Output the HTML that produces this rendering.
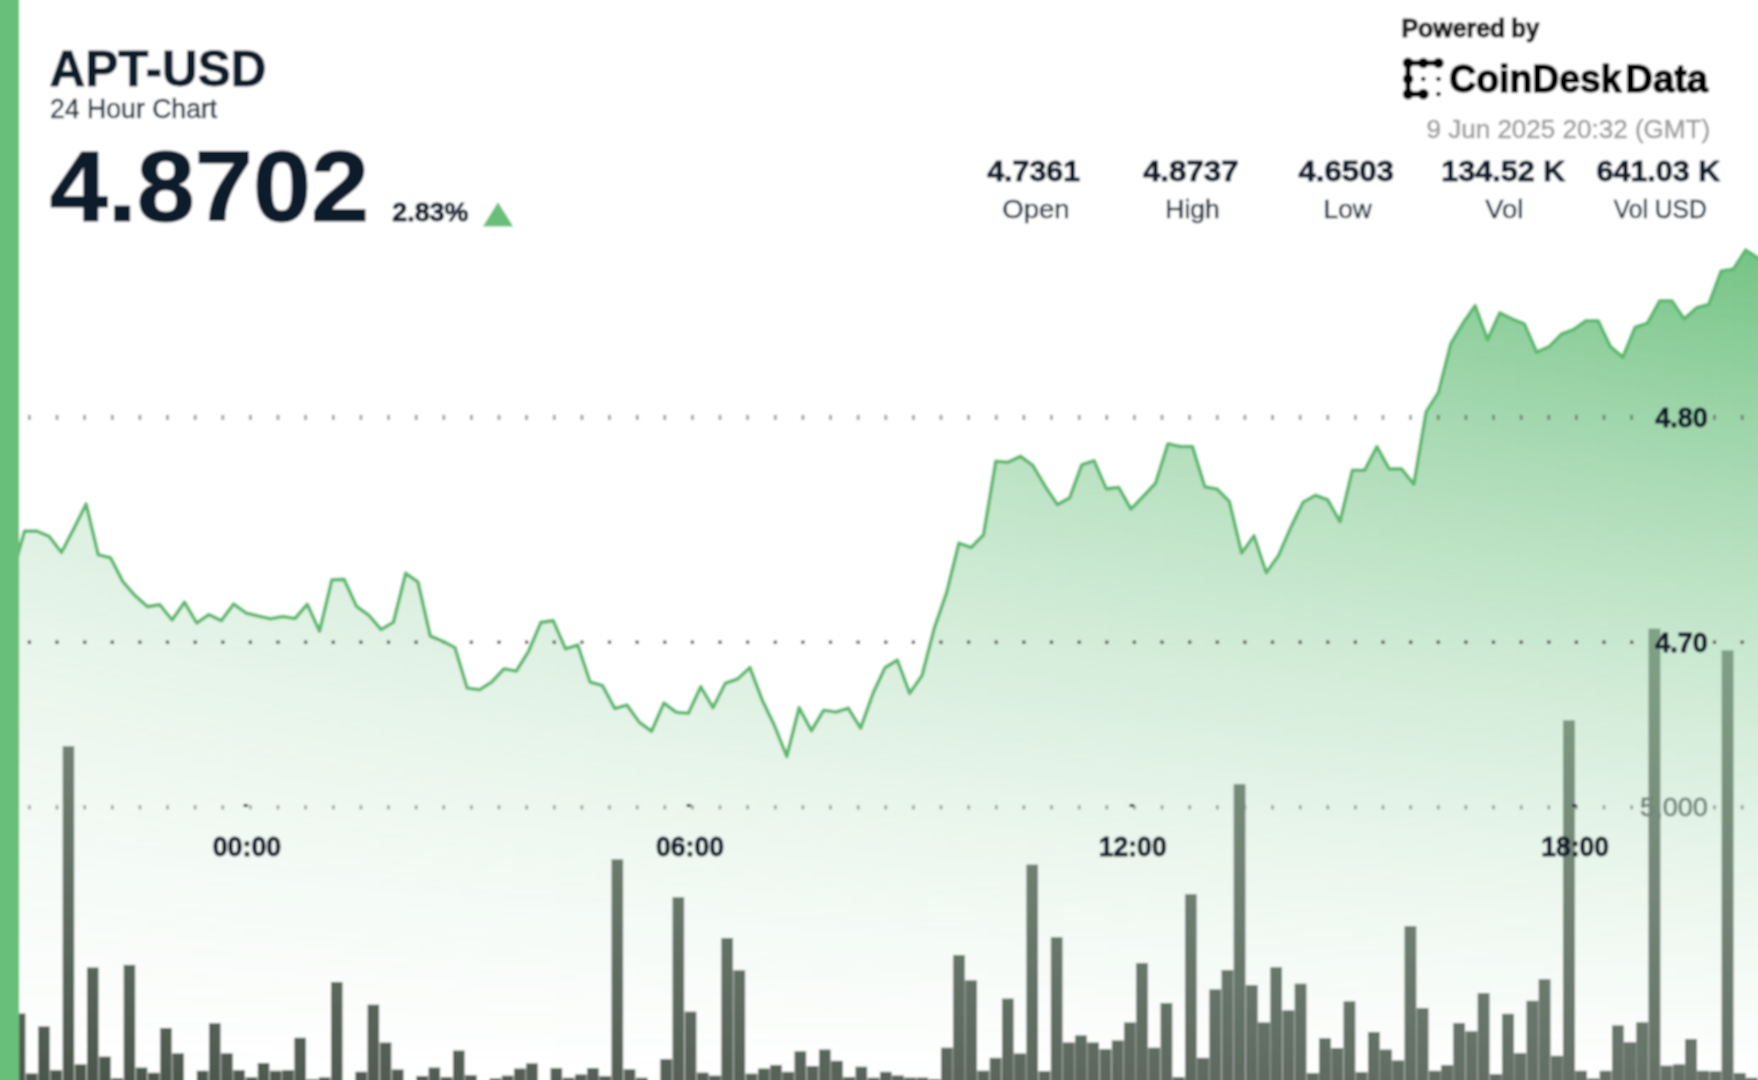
<!DOCTYPE html>
<html lang="en"><head><meta charset="utf-8"><title>APT-USD 24 Hour Chart</title>
<style>
html,body{margin:0;padding:0;background:#fff;}
body{width:1758px;height:1080px;overflow:hidden;position:relative;}
svg{position:absolute;left:0;top:0;display:block;}
text{font-family:"Liberation Sans","DejaVu Sans",sans-serif;}
</style></head><body>
<svg width="1758" height="1080" viewBox="0 0 1758 1080">
<defs>
<linearGradient id="hg" gradientUnits="userSpaceOnUse" x1="0" y1="0" x2="1758" y2="0">
<stop offset="0" stop-color="#5cb970" stop-opacity="0.339"/>
<stop offset="1" stop-color="#5cb970" stop-opacity="0.849"/>
</linearGradient>
<linearGradient id="vg" gradientUnits="userSpaceOnUse" x1="0" y1="250" x2="0" y2="1080"><stop offset="0.0" stop-color="rgb(255,255,255)"/><stop offset="0.1" stop-color="rgb(219,219,219)"/><stop offset="0.2" stop-color="rgb(185,185,185)"/><stop offset="0.3" stop-color="rgb(153,153,153)"/><stop offset="0.4" stop-color="rgb(124,124,124)"/><stop offset="0.5" stop-color="rgb(97,97,97)"/><stop offset="0.6" stop-color="rgb(73,73,73)"/><stop offset="0.7" stop-color="rgb(51,51,51)"/><stop offset="0.8" stop-color="rgb(32,32,32)"/><stop offset="0.9" stop-color="rgb(15,15,15)"/><stop offset="1.0" stop-color="rgb(0,0,0)"/></linearGradient>
<mask id="vm" maskUnits="userSpaceOnUse" x="-50" y="-50" width="1858" height="1180"><rect x="-50" y="-50" width="1858" height="1180" fill="url(#vg)"/></mask>
<linearGradient id="bgL" gradientUnits="userSpaceOnUse" x1="0" y1="630" x2="0" y2="1080">
<stop offset="0" stop-color="rgb(128,144,130)"/>
<stop offset="1" stop-color="rgb(76,87,77)"/>
</linearGradient>
<linearGradient id="bgR" gradientUnits="userSpaceOnUse" x1="0" y1="630" x2="0" y2="1080">
<stop offset="0" stop-color="rgb(128,162,134)"/>
<stop offset="0.569" stop-color="rgb(117,134,120)"/>
<stop offset="1" stop-color="rgb(101,113,103)"/>
</linearGradient>
<linearGradient id="hm" gradientUnits="userSpaceOnUse" x1="68" y1="0" x2="1654" y2="0">
<stop offset="0" stop-color="#000"/>
<stop offset="1" stop-color="#fff"/>
</linearGradient>
<mask id="hmask" maskUnits="userSpaceOnUse" x="-50" y="-50" width="1858" height="1180"><rect x="-50" y="-50" width="1858" height="1180" fill="url(#hm)"/></mask>
<filter id="soft" filterUnits="userSpaceOnUse" x="-60" y="-60" width="1878" height="1200"><feGaussianBlur stdDeviation="0.9"/></filter>
<g id="bars">
<rect x="1.7" y="1040.0" width="11.5" height="80.0"/>
<rect x="13.9" y="1013.5" width="11.5" height="106.5"/>
<rect x="26.0" y="1073.4" width="11.5" height="46.6"/>
<rect x="38.2" y="1026.4" width="11.5" height="93.6"/>
<rect x="50.4" y="1070.2" width="11.5" height="49.8"/>
<rect x="62.7" y="746.2" width="11.5" height="373.8"/>
<rect x="74.8" y="1064.3" width="11.5" height="55.7"/>
<rect x="87.0" y="967.5" width="11.5" height="152.5"/>
<rect x="99.2" y="1056.6" width="11.5" height="63.4"/>
<rect x="111.5" y="1078.3" width="11.5" height="41.7"/>
<rect x="123.7" y="964.9" width="11.5" height="155.1"/>
<rect x="135.8" y="1067.6" width="11.5" height="52.4"/>
<rect x="148.0" y="1072.8" width="11.5" height="47.2"/>
<rect x="160.2" y="1028.0" width="11.5" height="92.0"/>
<rect x="172.4" y="1053.3" width="11.5" height="66.7"/>
<rect x="196.8" y="1070.8" width="11.5" height="49.2"/>
<rect x="209.0" y="1023.2" width="11.5" height="96.8"/>
<rect x="221.2" y="1053.3" width="11.5" height="66.7"/>
<rect x="233.4" y="1070.2" width="11.5" height="49.8"/>
<rect x="245.7" y="1077.3" width="11.5" height="42.7"/>
<rect x="257.8" y="1063.0" width="11.5" height="57.0"/>
<rect x="270.0" y="1070.8" width="11.5" height="49.2"/>
<rect x="282.2" y="1070.2" width="11.5" height="49.8"/>
<rect x="294.4" y="1037.8" width="11.5" height="82.2"/>
<rect x="306.6" y="1079.4" width="11.5" height="40.6"/>
<rect x="318.8" y="1077.4" width="11.5" height="42.6"/>
<rect x="331.0" y="982.0" width="11.5" height="138.0"/>
<rect x="355.4" y="1071.8" width="11.5" height="48.2"/>
<rect x="367.6" y="1004.7" width="11.5" height="115.3"/>
<rect x="379.8" y="1042.6" width="11.5" height="77.4"/>
<rect x="392.0" y="1069.5" width="11.5" height="50.5"/>
<rect x="416.4" y="1076.0" width="11.5" height="44.0"/>
<rect x="428.6" y="1067.6" width="11.5" height="52.4"/>
<rect x="440.8" y="1077.0" width="11.5" height="43.0"/>
<rect x="453.0" y="1050.6" width="11.5" height="69.4"/>
<rect x="465.2" y="1075.2" width="11.5" height="44.8"/>
<rect x="489.6" y="1078.5" width="11.5" height="41.5"/>
<rect x="501.8" y="1075.7" width="11.5" height="44.3"/>
<rect x="514.0" y="1068.6" width="11.5" height="51.4"/>
<rect x="526.2" y="1063.4" width="11.5" height="56.6"/>
<rect x="550.6" y="1068.0" width="11.5" height="52.0"/>
<rect x="562.8" y="1077.8" width="11.5" height="42.2"/>
<rect x="575.0" y="1074.5" width="11.5" height="45.5"/>
<rect x="587.2" y="1068.0" width="11.5" height="52.0"/>
<rect x="599.4" y="1076.2" width="11.5" height="43.8"/>
<rect x="611.6" y="859.4" width="11.5" height="260.6"/>
<rect x="623.8" y="1069.3" width="11.5" height="50.7"/>
<rect x="636.0" y="1077.8" width="11.5" height="42.2"/>
<rect x="660.4" y="1059.1" width="11.5" height="60.9"/>
<rect x="672.6" y="897.3" width="11.5" height="222.7"/>
<rect x="684.8" y="1011.7" width="11.5" height="108.3"/>
<rect x="697.0" y="1072.7" width="11.5" height="47.3"/>
<rect x="709.2" y="1075.7" width="11.5" height="44.3"/>
<rect x="721.4" y="938.0" width="11.5" height="182.0"/>
<rect x="733.6" y="970.3" width="11.5" height="149.7"/>
<rect x="745.8" y="1073.7" width="11.5" height="46.3"/>
<rect x="758.0" y="1068.6" width="11.5" height="51.4"/>
<rect x="770.2" y="1065.0" width="11.5" height="55.0"/>
<rect x="782.4" y="1071.9" width="11.5" height="48.1"/>
<rect x="794.6" y="1051.4" width="11.5" height="68.6"/>
<rect x="806.8" y="1066.0" width="11.5" height="54.0"/>
<rect x="819.0" y="1049.6" width="11.5" height="70.4"/>
<rect x="831.2" y="1060.9" width="11.5" height="59.1"/>
<rect x="843.4" y="1077.0" width="11.5" height="43.0"/>
<rect x="855.6" y="1066.8" width="11.5" height="53.2"/>
<rect x="867.8" y="1077.8" width="11.5" height="42.2"/>
<rect x="880.0" y="1071.9" width="11.5" height="48.1"/>
<rect x="892.2" y="1075.6" width="11.5" height="44.4"/>
<rect x="904.4" y="1077.7" width="11.5" height="42.3"/>
<rect x="916.6" y="1077.7" width="11.5" height="42.3"/>
<rect x="928.8" y="1079.4" width="11.5" height="40.6"/>
<rect x="941.0" y="1047.8" width="11.5" height="72.2"/>
<rect x="953.2" y="955.1" width="11.5" height="164.9"/>
<rect x="965.4" y="980.4" width="11.5" height="139.6"/>
<rect x="977.6" y="1070.8" width="11.5" height="49.2"/>
<rect x="989.8" y="1057.9" width="11.5" height="62.1"/>
<rect x="1002.0" y="998.7" width="11.5" height="121.3"/>
<rect x="1014.2" y="1053.6" width="11.5" height="66.4"/>
<rect x="1026.5" y="864.7" width="11.5" height="255.3"/>
<rect x="1038.7" y="1071.3" width="11.5" height="48.7"/>
<rect x="1050.9" y="937.3" width="11.5" height="182.7"/>
<rect x="1063.0" y="1042.6" width="11.5" height="77.4"/>
<rect x="1075.2" y="1035.5" width="11.5" height="84.5"/>
<rect x="1087.5" y="1042.6" width="11.5" height="77.4"/>
<rect x="1099.7" y="1049.2" width="11.5" height="70.8"/>
<rect x="1111.9" y="1040.6" width="11.5" height="79.4"/>
<rect x="1124.0" y="1022.6" width="11.5" height="97.4"/>
<rect x="1136.2" y="963.1" width="11.5" height="156.9"/>
<rect x="1148.5" y="1047.8" width="11.5" height="72.2"/>
<rect x="1160.7" y="1003.0" width="11.5" height="117.0"/>
<rect x="1172.8" y="1077.1" width="11.5" height="42.9"/>
<rect x="1185.0" y="894.3" width="11.5" height="225.7"/>
<rect x="1197.2" y="1057.9" width="11.5" height="62.1"/>
<rect x="1209.5" y="989.5" width="11.5" height="130.5"/>
<rect x="1221.7" y="970.0" width="11.5" height="150.0"/>
<rect x="1233.8" y="784.3" width="11.5" height="335.7"/>
<rect x="1246.0" y="985.2" width="11.5" height="134.8"/>
<rect x="1258.2" y="1022.6" width="11.5" height="97.4"/>
<rect x="1270.5" y="967.4" width="11.5" height="152.6"/>
<rect x="1282.7" y="1010.5" width="11.5" height="109.5"/>
<rect x="1294.8" y="983.8" width="11.5" height="136.2"/>
<rect x="1307.0" y="1073.0" width="11.5" height="47.0"/>
<rect x="1319.2" y="1038.4" width="11.5" height="81.6"/>
<rect x="1331.5" y="1048.1" width="11.5" height="71.9"/>
<rect x="1343.7" y="1001.5" width="11.5" height="118.5"/>
<rect x="1355.8" y="1072.2" width="11.5" height="47.8"/>
<rect x="1368.0" y="1032.0" width="11.5" height="88.0"/>
<rect x="1380.2" y="1049.7" width="11.5" height="70.3"/>
<rect x="1392.5" y="1060.6" width="11.5" height="59.4"/>
<rect x="1404.7" y="926.3" width="11.5" height="193.7"/>
<rect x="1416.8" y="1008.2" width="11.5" height="111.8"/>
<rect x="1429.0" y="1070.9" width="11.5" height="49.1"/>
<rect x="1441.2" y="1065.2" width="11.5" height="54.8"/>
<rect x="1453.5" y="1023.0" width="11.5" height="97.0"/>
<rect x="1465.7" y="1031.5" width="11.5" height="88.5"/>
<rect x="1477.8" y="993.2" width="11.5" height="126.8"/>
<rect x="1490.0" y="1074.3" width="11.5" height="45.7"/>
<rect x="1502.2" y="1013.9" width="11.5" height="106.1"/>
<rect x="1514.5" y="1053.3" width="11.5" height="66.7"/>
<rect x="1526.7" y="1000.9" width="11.5" height="119.1"/>
<rect x="1538.8" y="979.4" width="11.5" height="140.6"/>
<rect x="1551.0" y="1055.9" width="11.5" height="64.1"/>
<rect x="1563.2" y="720.6" width="11.5" height="399.4"/>
<rect x="1575.5" y="1070.9" width="11.5" height="49.1"/>
<rect x="1587.7" y="1078.7" width="11.5" height="41.3"/>
<rect x="1599.8" y="1070.9" width="11.5" height="49.1"/>
<rect x="1612.0" y="1025.6" width="11.5" height="94.4"/>
<rect x="1624.2" y="1042.4" width="11.5" height="77.6"/>
<rect x="1636.5" y="1022.5" width="11.5" height="97.5"/>
<rect x="1648.7" y="628.8" width="11.5" height="491.2"/>
<rect x="1660.8" y="1065.8" width="11.5" height="54.2"/>
<rect x="1673.0" y="1064.5" width="11.5" height="55.5"/>
<rect x="1685.2" y="1039.0" width="11.5" height="81.0"/>
<rect x="1697.5" y="1070.9" width="11.5" height="49.1"/>
<rect x="1709.7" y="1071.5" width="11.5" height="48.5"/>
<rect x="1721.8" y="650.6" width="11.5" height="469.4"/>
<rect x="1734.0" y="1073.0" width="11.5" height="47.0"/>
<rect x="1746.2" y="1077.9" width="11.5" height="42.1"/>
</g>
</defs>
<rect width="1758" height="1080" fill="#fff"/>
<g filter="url(#soft)">
<rect x="-50" y="-50" width="1858" height="1180" fill="#fff"/>
<g mask="url(#vm)"><path d="M0.0,592.0 L12.3,574.0 L24.6,531.1 L36.9,531.1 L49.2,536.4 L61.5,552.5 L73.8,528.7 L86.1,504.0 L98.3,554.8 L110.6,557.8 L122.9,581.6 L135.2,595.7 L147.5,606.6 L159.8,604.6 L172.1,620.0 L184.4,602.2 L196.7,622.9 L209.0,614.6 L221.3,620.6 L233.6,604.0 L245.9,612.9 L258.2,616.1 L270.5,618.8 L282.8,616.4 L295.0,618.5 L307.3,604.3 L319.6,631.2 L331.9,579.7 L344.2,579.4 L356.5,606.3 L368.8,615.2 L381.1,629.5 L393.4,622.3 L405.7,573.2 L418.0,582.0 L430.3,636.0 L442.6,641.1 L454.9,647.5 L467.2,688.0 L479.5,689.7 L491.7,682.0 L504.0,668.8 L516.3,671.0 L528.6,651.3 L540.9,622.4 L553.2,620.6 L565.5,648.8 L577.8,645.0 L590.1,682.0 L602.4,685.4 L614.7,708.4 L627.0,705.1 L639.3,722.3 L651.6,731.2 L663.9,703.0 L676.2,712.3 L688.4,713.2 L700.7,686.7 L713.0,707.7 L725.3,683.3 L737.6,679.0 L749.9,667.5 L762.2,700.0 L774.5,725.6 L786.8,756.3 L799.1,707.7 L811.4,730.7 L823.7,710.2 L836.0,712.0 L848.3,708.2 L860.6,728.1 L872.9,693.6 L885.1,667.6 L897.4,660.1 L909.7,693.3 L922.0,675.5 L934.3,628.1 L946.6,592.6 L958.9,543.1 L971.2,547.5 L983.5,534.8 L995.8,461.3 L1008.1,462.2 L1020.4,456.3 L1032.7,465.2 L1045.0,485.9 L1057.3,504.6 L1069.6,497.8 L1081.8,464.6 L1094.1,460.7 L1106.4,488.9 L1118.7,487.4 L1131.0,509.0 L1143.3,496.3 L1155.6,483.0 L1167.9,443.8 L1180.2,446.5 L1192.5,446.5 L1204.8,486.8 L1217.1,488.9 L1229.4,501.6 L1241.7,553.0 L1254.0,535.7 L1266.3,572.7 L1278.5,555.5 L1290.8,527.4 L1303.1,502.2 L1315.4,495.3 L1327.7,499.8 L1340.0,521.7 L1352.3,470.3 L1364.6,470.3 L1376.9,446.7 L1389.2,468.9 L1401.5,468.9 L1413.8,484.2 L1426.1,411.9 L1438.4,392.5 L1450.7,343.9 L1463.0,323.1 L1475.2,305.6 L1487.5,339.7 L1499.8,312.8 L1512.1,318.9 L1524.4,323.9 L1536.7,352.2 L1549.0,346.7 L1561.3,334.2 L1573.6,329.4 L1585.9,320.8 L1598.2,320.8 L1610.5,346.7 L1622.8,357.2 L1635.1,327.2 L1647.4,323.1 L1659.7,300.8 L1671.9,300.8 L1684.2,318.9 L1696.5,307.8 L1708.8,304.2 L1721.1,271.1 L1733.4,268.9 L1745.7,250.0 L1758.0,258.0 L1798,261.0 L1798,1120 L-40,1120 L-40,592.0 Z" fill="url(#hg)"/></g>
<g fill="rgba(40,40,40,0.46)"><rect x="28.0" y="414.9" width="2.8" height="5"/><rect x="55.6" y="414.9" width="2.8" height="5"/><rect x="83.2" y="414.9" width="2.8" height="5"/><rect x="110.9" y="414.9" width="2.8" height="5"/><rect x="138.5" y="414.9" width="2.8" height="5"/><rect x="166.1" y="414.9" width="2.8" height="5"/><rect x="193.8" y="414.9" width="2.8" height="5"/><rect x="221.4" y="414.9" width="2.8" height="5"/><rect x="249.0" y="414.9" width="2.8" height="5"/><rect x="276.6" y="414.9" width="2.8" height="5"/><rect x="304.2" y="414.9" width="2.8" height="5"/><rect x="331.9" y="414.9" width="2.8" height="5"/><rect x="359.5" y="414.9" width="2.8" height="5"/><rect x="387.1" y="414.9" width="2.8" height="5"/><rect x="414.8" y="414.9" width="2.8" height="5"/><rect x="442.4" y="414.9" width="2.8" height="5"/><rect x="470.0" y="414.9" width="2.8" height="5"/><rect x="497.6" y="414.9" width="2.8" height="5"/><rect x="525.2" y="414.9" width="2.8" height="5"/><rect x="552.9" y="414.9" width="2.8" height="5"/><rect x="580.5" y="414.9" width="2.8" height="5"/><rect x="608.1" y="414.9" width="2.8" height="5"/><rect x="635.8" y="414.9" width="2.8" height="5"/><rect x="663.4" y="414.9" width="2.8" height="5"/><rect x="691.0" y="414.9" width="2.8" height="5"/><rect x="718.6" y="414.9" width="2.8" height="5"/><rect x="746.2" y="414.9" width="2.8" height="5"/><rect x="773.9" y="414.9" width="2.8" height="5"/><rect x="801.5" y="414.9" width="2.8" height="5"/><rect x="829.1" y="414.9" width="2.8" height="5"/><rect x="856.8" y="414.9" width="2.8" height="5"/><rect x="884.4" y="414.9" width="2.8" height="5"/><rect x="912.0" y="414.9" width="2.8" height="5"/><rect x="939.6" y="414.9" width="2.8" height="5"/><rect x="967.2" y="414.9" width="2.8" height="5"/><rect x="994.9" y="414.9" width="2.8" height="5"/><rect x="1022.5" y="414.9" width="2.8" height="5"/><rect x="1050.1" y="414.9" width="2.8" height="5"/><rect x="1077.8" y="414.9" width="2.8" height="5"/><rect x="1105.4" y="414.9" width="2.8" height="5"/><rect x="1133.0" y="414.9" width="2.8" height="5"/><rect x="1160.6" y="414.9" width="2.8" height="5"/><rect x="1188.2" y="414.9" width="2.8" height="5"/><rect x="1215.9" y="414.9" width="2.8" height="5"/><rect x="1243.5" y="414.9" width="2.8" height="5"/><rect x="1271.1" y="414.9" width="2.8" height="5"/><rect x="1298.8" y="414.9" width="2.8" height="5"/><rect x="1326.4" y="414.9" width="2.8" height="5"/><rect x="1354.0" y="414.9" width="2.8" height="5"/><rect x="1381.6" y="414.9" width="2.8" height="5"/><rect x="1409.2" y="414.9" width="2.8" height="5"/><rect x="1436.9" y="414.9" width="2.8" height="5"/><rect x="1464.5" y="414.9" width="2.8" height="5"/><rect x="1492.1" y="414.9" width="2.8" height="5"/><rect x="1519.8" y="414.9" width="2.8" height="5"/><rect x="1547.4" y="414.9" width="2.8" height="5"/><rect x="1575.0" y="414.9" width="2.8" height="5"/><rect x="1602.6" y="414.9" width="2.8" height="5"/><rect x="1630.2" y="414.9" width="2.8" height="5"/><rect x="1713.1" y="414.9" width="2.8" height="5"/><rect x="1740.8" y="414.9" width="2.8" height="5"/></g><g fill="rgba(40,40,40,0.85)"><rect x="27.8" y="640.6" width="3.2" height="3.2"/><rect x="55.4" y="640.6" width="3.2" height="3.2"/><rect x="83.1" y="640.6" width="3.2" height="3.2"/><rect x="110.7" y="640.6" width="3.2" height="3.2"/><rect x="138.3" y="640.6" width="3.2" height="3.2"/><rect x="165.9" y="640.6" width="3.2" height="3.2"/><rect x="193.6" y="640.6" width="3.2" height="3.2"/><rect x="221.2" y="640.6" width="3.2" height="3.2"/><rect x="248.8" y="640.6" width="3.2" height="3.2"/><rect x="276.4" y="640.6" width="3.2" height="3.2"/><rect x="304.0" y="640.6" width="3.2" height="3.2"/><rect x="331.7" y="640.6" width="3.2" height="3.2"/><rect x="359.3" y="640.6" width="3.2" height="3.2"/><rect x="386.9" y="640.6" width="3.2" height="3.2"/><rect x="414.5" y="640.6" width="3.2" height="3.2"/><rect x="442.2" y="640.6" width="3.2" height="3.2"/><rect x="469.8" y="640.6" width="3.2" height="3.2"/><rect x="497.4" y="640.6" width="3.2" height="3.2"/><rect x="525.0" y="640.6" width="3.2" height="3.2"/><rect x="552.7" y="640.6" width="3.2" height="3.2"/><rect x="580.3" y="640.6" width="3.2" height="3.2"/><rect x="607.9" y="640.6" width="3.2" height="3.2"/><rect x="635.5" y="640.6" width="3.2" height="3.2"/><rect x="663.2" y="640.6" width="3.2" height="3.2"/><rect x="690.8" y="640.6" width="3.2" height="3.2"/><rect x="718.4" y="640.6" width="3.2" height="3.2"/><rect x="746.0" y="640.6" width="3.2" height="3.2"/><rect x="773.7" y="640.6" width="3.2" height="3.2"/><rect x="801.3" y="640.6" width="3.2" height="3.2"/><rect x="828.9" y="640.6" width="3.2" height="3.2"/><rect x="856.5" y="640.6" width="3.2" height="3.2"/><rect x="884.2" y="640.6" width="3.2" height="3.2"/><rect x="911.8" y="640.6" width="3.2" height="3.2"/><rect x="939.4" y="640.6" width="3.2" height="3.2"/><rect x="967.0" y="640.6" width="3.2" height="3.2"/><rect x="994.7" y="640.6" width="3.2" height="3.2"/><rect x="1022.3" y="640.6" width="3.2" height="3.2"/><rect x="1049.9" y="640.6" width="3.2" height="3.2"/><rect x="1077.6" y="640.6" width="3.2" height="3.2"/><rect x="1105.2" y="640.6" width="3.2" height="3.2"/><rect x="1132.8" y="640.6" width="3.2" height="3.2"/><rect x="1160.4" y="640.6" width="3.2" height="3.2"/><rect x="1188.1" y="640.6" width="3.2" height="3.2"/><rect x="1215.7" y="640.6" width="3.2" height="3.2"/><rect x="1243.3" y="640.6" width="3.2" height="3.2"/><rect x="1270.9" y="640.6" width="3.2" height="3.2"/><rect x="1298.6" y="640.6" width="3.2" height="3.2"/><rect x="1326.2" y="640.6" width="3.2" height="3.2"/><rect x="1353.8" y="640.6" width="3.2" height="3.2"/><rect x="1381.4" y="640.6" width="3.2" height="3.2"/><rect x="1409.1" y="640.6" width="3.2" height="3.2"/><rect x="1436.7" y="640.6" width="3.2" height="3.2"/><rect x="1464.3" y="640.6" width="3.2" height="3.2"/><rect x="1491.9" y="640.6" width="3.2" height="3.2"/><rect x="1519.6" y="640.6" width="3.2" height="3.2"/><rect x="1547.2" y="640.6" width="3.2" height="3.2"/><rect x="1574.8" y="640.6" width="3.2" height="3.2"/><rect x="1602.4" y="640.6" width="3.2" height="3.2"/><rect x="1630.1" y="640.6" width="3.2" height="3.2"/><rect x="1712.9" y="640.6" width="3.2" height="3.2"/><rect x="1740.6" y="640.6" width="3.2" height="3.2"/></g><g fill="rgba(40,40,40,0.44)"><rect x="28.1" y="805.2" width="2.6" height="4.2"/><rect x="55.7" y="805.2" width="2.6" height="4.2"/><rect x="83.4" y="805.2" width="2.6" height="4.2"/><rect x="111.0" y="805.2" width="2.6" height="4.2"/><rect x="138.6" y="805.2" width="2.6" height="4.2"/><rect x="166.2" y="805.2" width="2.6" height="4.2"/><rect x="193.8" y="805.2" width="2.6" height="4.2"/><rect x="221.5" y="805.2" width="2.6" height="4.2"/><rect x="249.1" y="805.2" width="2.6" height="4.2"/><rect x="276.7" y="805.2" width="2.6" height="4.2"/><rect x="304.3" y="805.2" width="2.6" height="4.2"/><rect x="332.0" y="805.2" width="2.6" height="4.2"/><rect x="359.6" y="805.2" width="2.6" height="4.2"/><rect x="387.2" y="805.2" width="2.6" height="4.2"/><rect x="414.8" y="805.2" width="2.6" height="4.2"/><rect x="442.5" y="805.2" width="2.6" height="4.2"/><rect x="470.1" y="805.2" width="2.6" height="4.2"/><rect x="497.7" y="805.2" width="2.6" height="4.2"/><rect x="525.4" y="805.2" width="2.6" height="4.2"/><rect x="553.0" y="805.2" width="2.6" height="4.2"/><rect x="580.6" y="805.2" width="2.6" height="4.2"/><rect x="608.2" y="805.2" width="2.6" height="4.2"/><rect x="635.9" y="805.2" width="2.6" height="4.2"/><rect x="663.5" y="805.2" width="2.6" height="4.2"/><rect x="691.1" y="805.2" width="2.6" height="4.2"/><rect x="718.7" y="805.2" width="2.6" height="4.2"/><rect x="746.4" y="805.2" width="2.6" height="4.2"/><rect x="774.0" y="805.2" width="2.6" height="4.2"/><rect x="801.6" y="805.2" width="2.6" height="4.2"/><rect x="829.2" y="805.2" width="2.6" height="4.2"/><rect x="856.9" y="805.2" width="2.6" height="4.2"/><rect x="884.5" y="805.2" width="2.6" height="4.2"/><rect x="912.1" y="805.2" width="2.6" height="4.2"/><rect x="939.7" y="805.2" width="2.6" height="4.2"/><rect x="967.4" y="805.2" width="2.6" height="4.2"/><rect x="995.0" y="805.2" width="2.6" height="4.2"/><rect x="1022.6" y="805.2" width="2.6" height="4.2"/><rect x="1050.2" y="805.2" width="2.6" height="4.2"/><rect x="1077.9" y="805.2" width="2.6" height="4.2"/><rect x="1105.5" y="805.2" width="2.6" height="4.2"/><rect x="1133.1" y="805.2" width="2.6" height="4.2"/><rect x="1160.7" y="805.2" width="2.6" height="4.2"/><rect x="1188.4" y="805.2" width="2.6" height="4.2"/><rect x="1216.0" y="805.2" width="2.6" height="4.2"/><rect x="1243.6" y="805.2" width="2.6" height="4.2"/><rect x="1271.2" y="805.2" width="2.6" height="4.2"/><rect x="1298.9" y="805.2" width="2.6" height="4.2"/><rect x="1326.5" y="805.2" width="2.6" height="4.2"/><rect x="1354.1" y="805.2" width="2.6" height="4.2"/><rect x="1381.7" y="805.2" width="2.6" height="4.2"/><rect x="1409.4" y="805.2" width="2.6" height="4.2"/><rect x="1437.0" y="805.2" width="2.6" height="4.2"/><rect x="1464.6" y="805.2" width="2.6" height="4.2"/><rect x="1492.2" y="805.2" width="2.6" height="4.2"/><rect x="1519.9" y="805.2" width="2.6" height="4.2"/><rect x="1547.5" y="805.2" width="2.6" height="4.2"/><rect x="1575.1" y="805.2" width="2.6" height="4.2"/><rect x="1602.7" y="805.2" width="2.6" height="4.2"/><rect x="1630.4" y="805.2" width="2.6" height="4.2"/><rect x="1713.2" y="805.2" width="2.6" height="4.2"/><rect x="1740.9" y="805.2" width="2.6" height="4.2"/></g>
<path d="M0.0,592.0 L12.3,574.0 L24.6,531.1 L36.9,531.1 L49.2,536.4 L61.5,552.5 L73.8,528.7 L86.1,504.0 L98.3,554.8 L110.6,557.8 L122.9,581.6 L135.2,595.7 L147.5,606.6 L159.8,604.6 L172.1,620.0 L184.4,602.2 L196.7,622.9 L209.0,614.6 L221.3,620.6 L233.6,604.0 L245.9,612.9 L258.2,616.1 L270.5,618.8 L282.8,616.4 L295.0,618.5 L307.3,604.3 L319.6,631.2 L331.9,579.7 L344.2,579.4 L356.5,606.3 L368.8,615.2 L381.1,629.5 L393.4,622.3 L405.7,573.2 L418.0,582.0 L430.3,636.0 L442.6,641.1 L454.9,647.5 L467.2,688.0 L479.5,689.7 L491.7,682.0 L504.0,668.8 L516.3,671.0 L528.6,651.3 L540.9,622.4 L553.2,620.6 L565.5,648.8 L577.8,645.0 L590.1,682.0 L602.4,685.4 L614.7,708.4 L627.0,705.1 L639.3,722.3 L651.6,731.2 L663.9,703.0 L676.2,712.3 L688.4,713.2 L700.7,686.7 L713.0,707.7 L725.3,683.3 L737.6,679.0 L749.9,667.5 L762.2,700.0 L774.5,725.6 L786.8,756.3 L799.1,707.7 L811.4,730.7 L823.7,710.2 L836.0,712.0 L848.3,708.2 L860.6,728.1 L872.9,693.6 L885.1,667.6 L897.4,660.1 L909.7,693.3 L922.0,675.5 L934.3,628.1 L946.6,592.6 L958.9,543.1 L971.2,547.5 L983.5,534.8 L995.8,461.3 L1008.1,462.2 L1020.4,456.3 L1032.7,465.2 L1045.0,485.9 L1057.3,504.6 L1069.6,497.8 L1081.8,464.6 L1094.1,460.7 L1106.4,488.9 L1118.7,487.4 L1131.0,509.0 L1143.3,496.3 L1155.6,483.0 L1167.9,443.8 L1180.2,446.5 L1192.5,446.5 L1204.8,486.8 L1217.1,488.9 L1229.4,501.6 L1241.7,553.0 L1254.0,535.7 L1266.3,572.7 L1278.5,555.5 L1290.8,527.4 L1303.1,502.2 L1315.4,495.3 L1327.7,499.8 L1340.0,521.7 L1352.3,470.3 L1364.6,470.3 L1376.9,446.7 L1389.2,468.9 L1401.5,468.9 L1413.8,484.2 L1426.1,411.9 L1438.4,392.5 L1450.7,343.9 L1463.0,323.1 L1475.2,305.6 L1487.5,339.7 L1499.8,312.8 L1512.1,318.9 L1524.4,323.9 L1536.7,352.2 L1549.0,346.7 L1561.3,334.2 L1573.6,329.4 L1585.9,320.8 L1598.2,320.8 L1610.5,346.7 L1622.8,357.2 L1635.1,327.2 L1647.4,323.1 L1659.7,300.8 L1671.9,300.8 L1684.2,318.9 L1696.5,307.8 L1708.8,304.2 L1721.1,271.1 L1733.4,268.9 L1745.7,250.0 L1758.0,258.0" fill="none" stroke="#5cb96e" stroke-width="3.6" stroke-linejoin="round" stroke-linecap="round"/>
<use href="#bars" fill="url(#bgL)"/>
<g mask="url(#hmask)"><use href="#bars" fill="url(#bgR)"/></g>
<rect x="243.60000000000002" y="804.1" width="4.4" height="2.8" rx="1" fill="#111c2a"/><rect x="686.5999999999999" y="804.1" width="4.4" height="2.8" rx="1" fill="#111c2a"/><rect x="1129.6" y="804.1" width="4.4" height="2.8" rx="1" fill="#111c2a"/><rect x="1572.2" y="804.1" width="4.4" height="2.8" rx="1" fill="#111c2a"/>
<rect x="-40" y="-40" width="59.1" height="1160" fill="#67bf79"/>
<path d="M498,202.2 L513.2,226.4 L482.8,226.4 Z" fill="#67bf79"/>
<g fill="#000" stroke="#000">
<path d="M1438.5,63 L1408.1,63 L1408.1,94.1 L1423.3,94.1" fill="none" stroke-width="5.2" stroke-linecap="round" stroke-linejoin="round"/>
<g stroke="none">
<circle cx="1408.1" cy="63" r="5.4"/><circle cx="1423.3" cy="63" r="5.2"/><circle cx="1438.5" cy="63" r="5.2"/>
<circle cx="1408.1" cy="79" r="5.2"/><circle cx="1408.1" cy="94.1" r="5.4"/><circle cx="1423.3" cy="94.1" r="5.4"/>
<circle cx="1423.3" cy="79" r="2.3"/><circle cx="1438.5" cy="79" r="2.3"/><circle cx="1438.5" cy="94.1" r="2.3"/>
</g></g>
<text x="49.46" y="85.50" font-size="50.62" font-weight="bold" fill="#0b1a2b" textLength="217.00" lengthAdjust="spacingAndGlyphs" stroke="#0b1a2b" stroke-width="0.9" stroke-linejoin="round">APT-USD</text>
<text x="50.07" y="118.00" font-size="26.91" font-weight="normal" fill="#243342" textLength="167.16" lengthAdjust="spacingAndGlyphs" stroke="#243342" stroke-width="0.5" stroke-linejoin="round">24 Hour Chart</text>
<text x="49.73" y="221.10" font-size="100.93" font-weight="bold" fill="#0b1a2b" textLength="319.37" lengthAdjust="spacingAndGlyphs" stroke="#0b1a2b" stroke-width="1.2" stroke-linejoin="round">4.8702</text>
<text x="392.26" y="221.10" font-size="26.67" font-weight="bold" fill="#0b1a2b" textLength="76.23" lengthAdjust="spacingAndGlyphs" stroke="#0b1a2b" stroke-width="0.9" stroke-linejoin="round">2.83%</text>
<text x="987.24" y="181.00" font-size="30.11" font-weight="bold" fill="#0b1a2b" textLength="92.83" lengthAdjust="spacingAndGlyphs" stroke="#0b1a2b" stroke-width="0.9" stroke-linejoin="round">4.7361</text>
<text x="1142.93" y="181.00" font-size="30.11" font-weight="bold" fill="#0b1a2b" textLength="95.74" lengthAdjust="spacingAndGlyphs" stroke="#0b1a2b" stroke-width="0.9" stroke-linejoin="round">4.8737</text>
<text x="1298.53" y="181.00" font-size="30.11" font-weight="bold" fill="#0b1a2b" textLength="95.40" lengthAdjust="spacingAndGlyphs" stroke="#0b1a2b" stroke-width="0.9" stroke-linejoin="round">4.6503</text>
<text x="1441.19" y="181.00" font-size="30.11" font-weight="bold" fill="#0b1a2b" textLength="124.08" lengthAdjust="spacingAndGlyphs" stroke="#0b1a2b" stroke-width="0.9" stroke-linejoin="round">134.52 K</text>
<text x="1596.46" y="181.00" font-size="30.11" font-weight="bold" fill="#0b1a2b" textLength="123.81" lengthAdjust="spacingAndGlyphs" stroke="#0b1a2b" stroke-width="0.9" stroke-linejoin="round">641.03 K</text>
<text x="1002.39" y="217.80" font-size="26.47" font-weight="normal" fill="#1d2b3a" textLength="67.23" lengthAdjust="spacingAndGlyphs" stroke="#1d2b3a" stroke-width="0.5" stroke-linejoin="round">Open</text>
<text x="1165.32" y="217.80" font-size="26.47" font-weight="normal" fill="#1d2b3a" textLength="54.45" lengthAdjust="spacingAndGlyphs" stroke="#1d2b3a" stroke-width="0.5" stroke-linejoin="round">High</text>
<text x="1323.53" y="217.80" font-size="26.47" font-weight="normal" fill="#1d2b3a" textLength="48.29" lengthAdjust="spacingAndGlyphs" stroke="#1d2b3a" stroke-width="0.5" stroke-linejoin="round">Low</text>
<text x="1485.16" y="217.80" font-size="26.47" font-weight="normal" fill="#1d2b3a" textLength="38.09" lengthAdjust="spacingAndGlyphs" stroke="#1d2b3a" stroke-width="0.5" stroke-linejoin="round">Vol</text>
<text x="1613.78" y="217.80" font-size="26.47" font-weight="normal" fill="#1d2b3a" textLength="92.88" lengthAdjust="spacingAndGlyphs" stroke="#1d2b3a" stroke-width="0.5" stroke-linejoin="round">Vol USD</text>
<text x="1401.52" y="36.60" font-size="25.02" font-weight="bold" fill="#1c1c1c" textLength="103.71" lengthAdjust="spacingAndGlyphs" stroke="#1c1c1c" stroke-width="1.1" stroke-linejoin="round">Powered</text>
<text x="1511.34" y="36.60" font-size="25.02" font-weight="bold" fill="#1c1c1c" textLength="27.92" lengthAdjust="spacingAndGlyphs" stroke="#1c1c1c" stroke-width="1.1" stroke-linejoin="round">by</text>
<text x="1449.31" y="92.20" font-size="39.42" font-weight="bold" fill="#000" textLength="172.20" lengthAdjust="spacingAndGlyphs" stroke="#000" stroke-width="1.5" stroke-linejoin="round">CoinDesk</text>
<text x="1625.32" y="92.20" font-size="39.42" font-weight="bold" fill="#000" textLength="82.79" lengthAdjust="spacingAndGlyphs" stroke="#000" stroke-width="1.5" stroke-linejoin="round">Data</text>
<text x="1426.46" y="137.60" font-size="26.24" font-weight="normal" fill="#9c9c9c" textLength="283.66" lengthAdjust="spacingAndGlyphs" stroke="#9c9c9c" stroke-width="0.5" stroke-linejoin="round">9 Jun 2025 20:32 (GMT)</text>
<text x="1655.30" y="426.90" font-size="27.53" font-weight="bold" fill="#0b1a2b" textLength="52.52" lengthAdjust="spacingAndGlyphs" stroke="#0b1a2b" stroke-width="0.9" stroke-linejoin="round">4.80</text>
<text x="1655.30" y="651.60" font-size="27.53" font-weight="bold" fill="#0b1a2b" textLength="52.52" lengthAdjust="spacingAndGlyphs" stroke="#0b1a2b" stroke-width="0.9" stroke-linejoin="round">4.70</text>
<text x="1640.12" y="815.90" font-size="26.24" font-weight="normal" fill="#74877b" textLength="67.70" lengthAdjust="spacingAndGlyphs" stroke="#74877b" stroke-width="0.8" stroke-linejoin="round">5,000</text>
<text x="212.73" y="856.40" font-size="27.38" font-weight="bold" fill="#0b1a2b" textLength="68.55" lengthAdjust="spacingAndGlyphs" stroke="#0b1a2b" stroke-width="0.9" stroke-linejoin="round">00:00</text>
<text x="655.94" y="856.40" font-size="27.38" font-weight="bold" fill="#0b1a2b" textLength="68.03" lengthAdjust="spacingAndGlyphs" stroke="#0b1a2b" stroke-width="0.9" stroke-linejoin="round">06:00</text>
<text x="1098.74" y="856.40" font-size="27.38" font-weight="bold" fill="#0b1a2b" textLength="67.93" lengthAdjust="spacingAndGlyphs" stroke="#0b1a2b" stroke-width="0.9" stroke-linejoin="round">12:00</text>
<text x="1541.35" y="856.40" font-size="27.38" font-weight="bold" fill="#0b1a2b" textLength="67.72" lengthAdjust="spacingAndGlyphs" stroke="#0b1a2b" stroke-width="0.9" stroke-linejoin="round">18:00</text>
</g>
</svg>
</body></html>
